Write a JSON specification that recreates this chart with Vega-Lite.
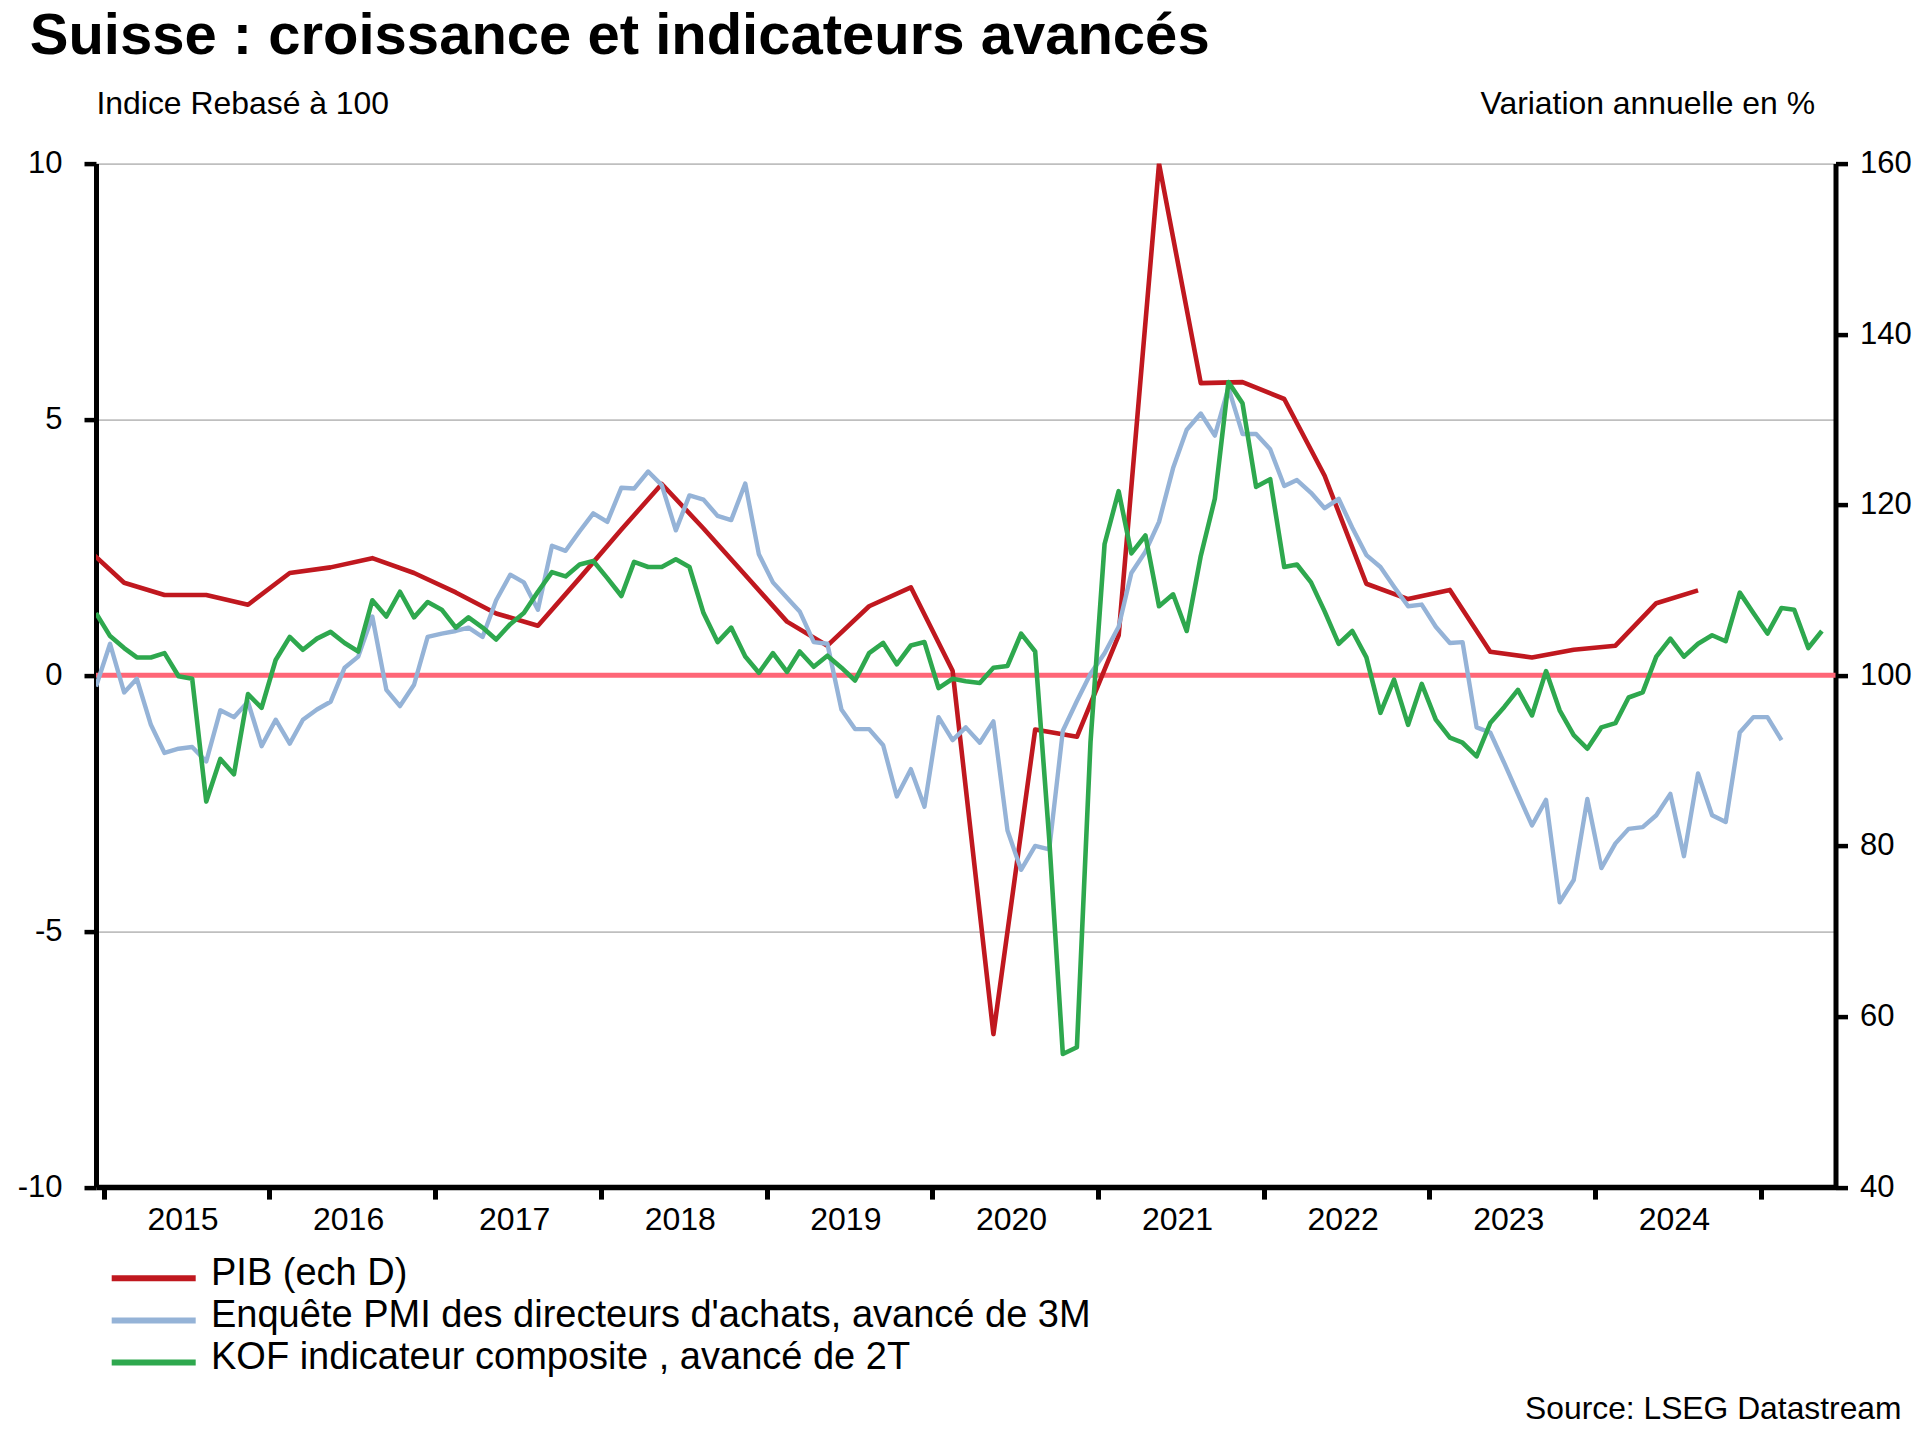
{
  "$schema": "https://vega.github.io/schema/vega-lite/v6.json",
  "autosize": {"type": "none"},
  "width": 1739.5,
  "height": 1023.5,
  "padding": {"left": 96, "top": 163.6, "right": 93.5, "bottom": 248.9},
  "background": "white",
  "config": {
    "font": "Liberation Sans",
    "view": {"stroke": null},
    "axis": {"labelFont": "Liberation Sans", "titleFont": "Liberation Sans", "labelColor": "black", "titleColor": "black"},
    "legend": {
      "orient": "none", "legendX": 38.7, "legendY": 1091, "direction": "vertical", "padding": 0,
      "symbolType": "M-4,0.45L4,0.45", "symbolSize": 441, "symbolStrokeWidth": 6,
      "labelFont": "Liberation Sans", "labelFontSize": 38, "labelColor": "black", "labelOffset": 38.3,
      "labelLimit": 2000, "rowPadding": 4.1
    }
  },
  "datasets": {
    "pib": [
      {"date": "2014-11-15", "value": 2.56}, {"date": "2015-02-15", "value": 1.81}, {"date": "2015-05-15", "value": 1.57},
      {"date": "2015-08-15", "value": 1.57}, {"date": "2015-11-15", "value": 1.38}, {"date": "2016-02-15", "value": 2.0},
      {"date": "2016-05-15", "value": 2.11}, {"date": "2016-08-15", "value": 2.29}, {"date": "2016-11-15", "value": 2.0},
      {"date": "2017-02-15", "value": 1.62}, {"date": "2017-05-15", "value": 1.21}, {"date": "2017-08-15", "value": 0.97},
      {"date": "2017-11-15", "value": 1.9}, {"date": "2018-02-15", "value": 2.85}, {"date": "2018-05-15", "value": 3.74},
      {"date": "2018-08-15", "value": 2.87}, {"date": "2018-11-15", "value": 1.96}, {"date": "2019-02-15", "value": 1.05},
      {"date": "2019-05-15", "value": 0.58}, {"date": "2019-08-15", "value": 1.35}, {"date": "2019-11-15", "value": 1.72},
      {"date": "2020-02-15", "value": 0.09}, {"date": "2020-05-15", "value": -7.01}, {"date": "2020-08-15", "value": -1.06},
      {"date": "2020-11-15", "value": -1.2}, {"date": "2021-02-15", "value": 0.78}, {"date": "2021-05-15", "value": 10.0},
      {"date": "2021-08-15", "value": 5.71}, {"date": "2021-11-15", "value": 5.73}, {"date": "2022-02-15", "value": 5.4},
      {"date": "2022-05-15", "value": 3.9}, {"date": "2022-08-15", "value": 1.79}, {"date": "2022-11-15", "value": 1.49},
      {"date": "2023-02-15", "value": 1.67}, {"date": "2023-05-15", "value": 0.46}, {"date": "2023-08-15", "value": 0.35},
      {"date": "2023-11-15", "value": 0.5}, {"date": "2024-02-15", "value": 0.58}, {"date": "2024-05-15", "value": 1.41},
      {"date": "2024-08-15", "value": 1.66}
    ],
    "pmi": [
      {"date": "2014-12-15", "value": 98.7}, {"date": "2015-01-15", "value": 103.7}, {"date": "2015-02-15", "value": 98.0},
      {"date": "2015-03-15", "value": 99.6}, {"date": "2015-04-15", "value": 94.2}, {"date": "2015-05-15", "value": 90.9},
      {"date": "2015-06-15", "value": 91.4}, {"date": "2015-07-15", "value": 91.6}, {"date": "2015-08-15", "value": 89.9},
      {"date": "2015-09-15", "value": 95.9}, {"date": "2015-10-15", "value": 95.1}, {"date": "2015-11-15", "value": 96.9},
      {"date": "2015-12-15", "value": 91.7}, {"date": "2016-01-15", "value": 94.8}, {"date": "2016-02-15", "value": 92.0},
      {"date": "2016-03-15", "value": 94.8}, {"date": "2016-04-15", "value": 96.0}, {"date": "2016-05-15", "value": 96.9},
      {"date": "2016-06-15", "value": 100.9}, {"date": "2016-07-15", "value": 102.2}, {"date": "2016-08-15", "value": 106.9},
      {"date": "2016-09-15", "value": 98.3}, {"date": "2016-10-15", "value": 96.4}, {"date": "2016-11-15", "value": 98.9},
      {"date": "2016-12-15", "value": 104.5}, {"date": "2017-01-15", "value": 104.9}, {"date": "2017-02-15", "value": 105.2},
      {"date": "2017-03-15", "value": 105.6}, {"date": "2017-04-15", "value": 104.5}, {"date": "2017-05-15", "value": 108.8},
      {"date": "2017-06-15", "value": 111.8}, {"date": "2017-07-15", "value": 110.9}, {"date": "2017-08-15", "value": 107.7},
      {"date": "2017-09-15", "value": 115.2}, {"date": "2017-10-15", "value": 114.6}, {"date": "2017-11-15", "value": 116.9},
      {"date": "2017-12-15", "value": 119.0}, {"date": "2018-01-15", "value": 118.0}, {"date": "2018-02-15", "value": 122.0},
      {"date": "2018-03-15", "value": 121.9}, {"date": "2018-04-15", "value": 123.9}, {"date": "2018-05-15", "value": 122.3},
      {"date": "2018-06-15", "value": 117.0}, {"date": "2018-07-15", "value": 121.1}, {"date": "2018-08-15", "value": 120.6},
      {"date": "2018-09-15", "value": 118.7}, {"date": "2018-10-15", "value": 118.2}, {"date": "2018-11-15", "value": 122.5},
      {"date": "2018-12-15", "value": 114.2}, {"date": "2019-01-15", "value": 110.9}, {"date": "2019-02-15", "value": 109.1},
      {"date": "2019-03-15", "value": 107.5}, {"date": "2019-04-15", "value": 103.9}, {"date": "2019-05-15", "value": 103.7},
      {"date": "2019-06-15", "value": 96.0}, {"date": "2019-07-15", "value": 93.7}, {"date": "2019-08-15", "value": 93.7},
      {"date": "2019-09-15", "value": 91.8}, {"date": "2019-10-15", "value": 85.8}, {"date": "2019-11-15", "value": 89.0},
      {"date": "2019-12-15", "value": 84.6}, {"date": "2020-01-15", "value": 95.1}, {"date": "2020-02-15", "value": 92.4},
      {"date": "2020-03-15", "value": 93.9}, {"date": "2020-04-15", "value": 92.1}, {"date": "2020-05-15", "value": 94.6},
      {"date": "2020-06-15", "value": 81.8}, {"date": "2020-07-15", "value": 77.2}, {"date": "2020-08-15", "value": 80.0},
      {"date": "2020-09-15", "value": 79.6}, {"date": "2020-10-15", "value": 93.5}, {"date": "2020-11-15", "value": 97.0},
      {"date": "2020-12-15", "value": 100.2}, {"date": "2021-01-15", "value": 102.6}, {"date": "2021-02-15", "value": 105.7},
      {"date": "2021-03-15", "value": 112.0}, {"date": "2021-04-15", "value": 114.5}, {"date": "2021-05-15", "value": 118.0},
      {"date": "2021-06-15", "value": 124.3}, {"date": "2021-07-15", "value": 128.8}, {"date": "2021-08-15", "value": 130.7},
      {"date": "2021-09-15", "value": 128.1}, {"date": "2021-10-15", "value": 133.7}, {"date": "2021-11-15", "value": 128.3},
      {"date": "2021-12-15", "value": 128.3}, {"date": "2022-01-15", "value": 126.5}, {"date": "2022-02-15", "value": 122.2},
      {"date": "2022-03-15", "value": 122.9}, {"date": "2022-04-15", "value": 121.4}, {"date": "2022-05-15", "value": 119.6},
      {"date": "2022-06-15", "value": 120.7}, {"date": "2022-07-15", "value": 117.3}, {"date": "2022-08-15", "value": 114.1},
      {"date": "2022-09-15", "value": 112.7}, {"date": "2022-10-15", "value": 110.4}, {"date": "2022-11-15", "value": 108.1},
      {"date": "2022-12-15", "value": 108.3}, {"date": "2023-01-15", "value": 105.7}, {"date": "2023-02-15", "value": 103.8},
      {"date": "2023-03-15", "value": 103.9}, {"date": "2023-04-15", "value": 93.9}, {"date": "2023-05-15", "value": 93.3},
      {"date": "2023-06-15", "value": 89.7}, {"date": "2023-07-15", "value": 86.1}, {"date": "2023-08-15", "value": 82.4},
      {"date": "2023-09-15", "value": 85.4}, {"date": "2023-10-15", "value": 73.4}, {"date": "2023-11-15", "value": 76.0},
      {"date": "2023-12-15", "value": 85.5}, {"date": "2024-01-15", "value": 77.4}, {"date": "2024-02-15", "value": 80.3},
      {"date": "2024-03-15", "value": 82.0}, {"date": "2024-04-15", "value": 82.2}, {"date": "2024-05-15", "value": 83.6},
      {"date": "2024-06-15", "value": 86.1}, {"date": "2024-07-15", "value": 78.8}, {"date": "2024-08-15", "value": 88.5},
      {"date": "2024-09-15", "value": 83.6}, {"date": "2024-10-15", "value": 82.8}, {"date": "2024-11-15", "value": 93.3},
      {"date": "2024-12-15", "value": 95.1}, {"date": "2025-01-15", "value": 95.1}, {"date": "2025-02-15", "value": 92.4}
    ],
    "kof": [
      {"date": "2014-12-15", "value": 107.3}, {"date": "2015-01-15", "value": 104.6}, {"date": "2015-02-15", "value": 103.2},
      {"date": "2015-03-15", "value": 102.1}, {"date": "2015-04-15", "value": 102.1}, {"date": "2015-05-15", "value": 102.6},
      {"date": "2015-06-15", "value": 99.9}, {"date": "2015-07-15", "value": 99.6}, {"date": "2015-08-15", "value": 85.2},
      {"date": "2015-09-15", "value": 90.2}, {"date": "2015-10-15", "value": 88.4}, {"date": "2015-11-15", "value": 97.8},
      {"date": "2015-12-15", "value": 96.2}, {"date": "2016-01-15", "value": 101.8}, {"date": "2016-02-15", "value": 104.5},
      {"date": "2016-03-15", "value": 103.0}, {"date": "2016-04-15", "value": 104.3}, {"date": "2016-05-15", "value": 105.1},
      {"date": "2016-06-15", "value": 103.8}, {"date": "2016-07-15", "value": 102.8}, {"date": "2016-08-15", "value": 108.8},
      {"date": "2016-09-15", "value": 106.9}, {"date": "2016-10-15", "value": 109.8}, {"date": "2016-11-15", "value": 106.8},
      {"date": "2016-12-15", "value": 108.6}, {"date": "2017-01-15", "value": 107.7}, {"date": "2017-02-15", "value": 105.6},
      {"date": "2017-03-15", "value": 106.8}, {"date": "2017-04-15", "value": 105.6}, {"date": "2017-05-15", "value": 104.2},
      {"date": "2017-06-15", "value": 106.0}, {"date": "2017-07-15", "value": 107.3}, {"date": "2017-08-15", "value": 109.8},
      {"date": "2017-09-15", "value": 112.1}, {"date": "2017-10-15", "value": 111.6}, {"date": "2017-11-15", "value": 113.0},
      {"date": "2017-12-15", "value": 113.4}, {"date": "2018-01-15", "value": 111.4}, {"date": "2018-02-15", "value": 109.3},
      {"date": "2018-03-15", "value": 113.3}, {"date": "2018-04-15", "value": 112.7}, {"date": "2018-05-15", "value": 112.7},
      {"date": "2018-06-15", "value": 113.6}, {"date": "2018-07-15", "value": 112.7}, {"date": "2018-08-15", "value": 107.3},
      {"date": "2018-09-15", "value": 103.9}, {"date": "2018-10-15", "value": 105.6}, {"date": "2018-11-15", "value": 102.2},
      {"date": "2018-12-15", "value": 100.3}, {"date": "2019-01-15", "value": 102.6}, {"date": "2019-02-15", "value": 100.4},
      {"date": "2019-03-15", "value": 102.8}, {"date": "2019-04-15", "value": 101.0}, {"date": "2019-05-15", "value": 102.3},
      {"date": "2019-06-15", "value": 100.9}, {"date": "2019-07-15", "value": 99.4}, {"date": "2019-08-15", "value": 102.6},
      {"date": "2019-09-15", "value": 103.8}, {"date": "2019-10-15", "value": 101.3}, {"date": "2019-11-15", "value": 103.5},
      {"date": "2019-12-15", "value": 103.9}, {"date": "2020-01-15", "value": 98.5}, {"date": "2020-02-15", "value": 99.6},
      {"date": "2020-03-15", "value": 99.3}, {"date": "2020-04-15", "value": 99.1}, {"date": "2020-05-15", "value": 100.9},
      {"date": "2020-06-15", "value": 101.1}, {"date": "2020-07-15", "value": 104.9}, {"date": "2020-08-15", "value": 102.8},
      {"date": "2020-09-15", "value": 80.8}, {"date": "2020-10-15", "value": 55.6}, {"date": "2020-11-15", "value": 56.4},
      {"date": "2020-12-15", "value": 92.2}, {"date": "2021-01-15", "value": 115.4}, {"date": "2021-02-15", "value": 121.6},
      {"date": "2021-03-15", "value": 114.3}, {"date": "2021-04-15", "value": 116.4}, {"date": "2021-05-15", "value": 108.1},
      {"date": "2021-06-15", "value": 109.5}, {"date": "2021-07-15", "value": 105.2}, {"date": "2021-08-15", "value": 114.0},
      {"date": "2021-09-15", "value": 120.7}, {"date": "2021-10-15", "value": 134.4}, {"date": "2021-11-15", "value": 131.9},
      {"date": "2021-12-15", "value": 122.1}, {"date": "2022-01-15", "value": 123.0}, {"date": "2022-02-15", "value": 112.7},
      {"date": "2022-03-15", "value": 113.0}, {"date": "2022-04-15", "value": 110.9}, {"date": "2022-05-15", "value": 107.5},
      {"date": "2022-06-15", "value": 103.7}, {"date": "2022-07-15", "value": 105.2}, {"date": "2022-08-15", "value": 102.1},
      {"date": "2022-09-15", "value": 95.6}, {"date": "2022-10-15", "value": 99.5}, {"date": "2022-11-15", "value": 94.2},
      {"date": "2022-12-15", "value": 99.0}, {"date": "2023-01-15", "value": 94.8}, {"date": "2023-02-15", "value": 92.7},
      {"date": "2023-03-15", "value": 92.1}, {"date": "2023-04-15", "value": 90.5}, {"date": "2023-05-15", "value": 94.4},
      {"date": "2023-06-15", "value": 96.3}, {"date": "2023-07-15", "value": 98.3}, {"date": "2023-08-15", "value": 95.3},
      {"date": "2023-09-15", "value": 100.5}, {"date": "2023-10-15", "value": 95.9}, {"date": "2023-11-15", "value": 93.0},
      {"date": "2023-12-15", "value": 91.4}, {"date": "2024-01-15", "value": 93.9}, {"date": "2024-02-15", "value": 94.4},
      {"date": "2024-03-15", "value": 97.4}, {"date": "2024-04-15", "value": 98.0}, {"date": "2024-05-15", "value": 102.2},
      {"date": "2024-06-15", "value": 104.3}, {"date": "2024-07-15", "value": 102.2}, {"date": "2024-08-15", "value": 103.7},
      {"date": "2024-09-15", "value": 104.7}, {"date": "2024-10-15", "value": 104.0}, {"date": "2024-11-15", "value": 109.7},
      {"date": "2024-12-15", "value": 107.3}, {"date": "2025-01-15", "value": 104.9}, {"date": "2025-02-15", "value": 107.9},
      {"date": "2025-03-15", "value": 107.7}, {"date": "2025-04-15", "value": 103.2}, {"date": "2025-05-15", "value": 105.2}
    ]
  },
  "layer": [
    {
      "data": {"values": [{}]},
      "mark": {"type": "rule", "color": "#FF6677", "strokeWidth": 5},
      "encoding": {
        "y": {"datum": 0, "type": "quantitative", "scale": {"domain": [-10, 10], "nice": false, "zero": false},
          "axis": {"orient": "left", "grid": false, "domain": false, "ticks": false, "labels": false,
            "title": "Suisse : croissance et indicateurs avancés", "titleAngle": 0, "titleAlign": "left",
            "titleBaseline": "alphabetic", "titleX": -66.8, "titleY": -110.3, "titleFontSize": 58, "titleFontWeight": "bold"}}
      }
    },
    {
      "data": {"name": "pib"},
      "mark": {"type": "line", "strokeWidth": 4.6, "clip": true, "strokeJoin": "round"},
      "encoding": {
        "x": {"field": "date", "type": "temporal",
          "scale": {"type": "utc", "domain": [{"year": 2014, "month": 12, "date": 15, "utc": true}, {"year": 2025, "month": 6, "date": 14, "utc": true}]},
          "axis": {"orient": "bottom", "grid": false,
            "values": [{"year": 2015, "month": 1, "date": 1, "utc": true}, {"year": 2016, "month": 1, "date": 1, "utc": true}, {"year": 2017, "month": 1, "date": 1, "utc": true}, {"year": 2018, "month": 1, "date": 1, "utc": true}, {"year": 2019, "month": 1, "date": 1, "utc": true}, {"year": 2020, "month": 1, "date": 1, "utc": true}, {"year": 2021, "month": 1, "date": 1, "utc": true}, {"year": 2022, "month": 1, "date": 1, "utc": true}, {"year": 2023, "month": 1, "date": 1, "utc": true}, {"year": 2024, "month": 1, "date": 1, "utc": true}, {"year": 2025, "month": 1, "date": 1, "utc": true}],
            "labelExpr": "utcyear(datum.value) >= 2025 ? '' : utcFormat(datum.value, '%Y')",
            "labelOffset": 78.8, "labelFlush": false, "labelOverlap": false, "labelFontSize": 32, "labelPadding": 20.6, "labelBaseline": "middle",
            "tickSize": 12, "tickWidth": 5, "tickColor": "black", "domainColor": "black", "domainWidth": 5.5,
            "title": "Source: LSEG Datastream", "titleAlign": "right", "titleAnchor": "end", "titleX": 1805, "titleY": 221, "titleBaseline": "middle",
            "titleFontSize": 31.8, "titleFontWeight": "normal"}},
        "y": {"field": "value", "type": "quantitative", "scale": {"domain": [-10, 10], "nice": false, "zero": false},
          "axis": {"orient": "left", "values": [-10, -5, 0, 5, 10], "grid": true, "gridColor": "#BFBFBF", "gridWidth": 1.6,
            "domainColor": "black", "domainWidth": 5, "tickColor": "black", "tickWidth": 4.5, "tickSize": 12,
            "labelExpr": "datum.value < 0 ? '-' + format(abs(datum.value), 'd') : datum.label",
            "labelFontSize": 31, "labelPadding": 22, "title": "Indice Rebasé à 100", "titleAngle": 0, "titleAlign": "left",
            "titleBaseline": "middle", "titleX": 0, "titleY": -60, "titleFontSize": 31.9, "titleFontWeight": "normal"}},
        "color": {"datum": "PIB (ech D)", "type": "nominal",
          "scale": {"domain": ["PIB (ech D)", "Enquête PMI des directeurs d'achats, avancé de 3M", "KOF indicateur composite , avancé de 2T"], "range": ["#C0181F", "#95B3D7", "#2EA84E"]},
          "legend": {"title": null}}
      }
    },
    {
      "layer": [
        {
          "data": {"name": "pmi"},
          "mark": {"type": "line", "strokeWidth": 4.4, "clip": true, "strokeJoin": "round"},
          "encoding": {
            "x": {"field": "date", "type": "temporal",
              "scale": {"type": "utc", "domain": [{"year": 2014, "month": 12, "date": 15, "utc": true}, {"year": 2025, "month": 6, "date": 14, "utc": true}]},
              "axis": {"title": "Source: LSEG Datastream"}},
            "y": {"field": "value", "type": "quantitative", "scale": {"domain": [40, 160], "nice": false, "zero": false},
              "axis": {"orient": "right", "values": [40, 60, 80, 100, 120, 140, 160], "grid": false,
                "domainColor": "black", "domainWidth": 5, "tickColor": "black", "tickWidth": 4.5, "tickSize": 12,
                "labelFontSize": 31, "labelPadding": 12, "title": "Variation annuelle en %", "titleAngle": 0, "titleAlign": "right",
                "titleBaseline": "middle", "titleX": -21, "titleY": -60, "titleFontSize": 31.9, "titleFontWeight": "normal"}},
            "color": {"datum": "Enquête PMI des directeurs d'achats, avancé de 3M", "type": "nominal", "legend": {"title": null}}
          }
        },
        {
          "data": {"name": "kof"},
          "mark": {"type": "line", "strokeWidth": 4.6, "clip": true, "strokeJoin": "round"},
          "encoding": {
            "x": {"field": "date", "type": "temporal",
              "scale": {"type": "utc", "domain": [{"year": 2014, "month": 12, "date": 15, "utc": true}, {"year": 2025, "month": 6, "date": 14, "utc": true}]},
              "axis": {"title": "Source: LSEG Datastream"}},
            "y": {"field": "value", "type": "quantitative", "scale": {"domain": [40, 160], "nice": false, "zero": false},
              "axis": {"orient": "right", "values": [40, 60, 80, 100, 120, 140, 160], "grid": false,
                "domainColor": "black", "domainWidth": 5, "tickColor": "black", "tickWidth": 4.5, "tickSize": 12,
                "labelFontSize": 31, "labelPadding": 12, "title": "Variation annuelle en %", "titleAngle": 0, "titleAlign": "right",
                "titleBaseline": "middle", "titleX": -21, "titleY": -60, "titleFontSize": 31.9, "titleFontWeight": "normal"}},
            "color": {"datum": "KOF indicateur composite , avancé de 2T", "type": "nominal", "legend": {"title": null}}
          }
        }
      ]
    }
  ],
  "resolve": {"scale": {"y": "independent"}}
}
